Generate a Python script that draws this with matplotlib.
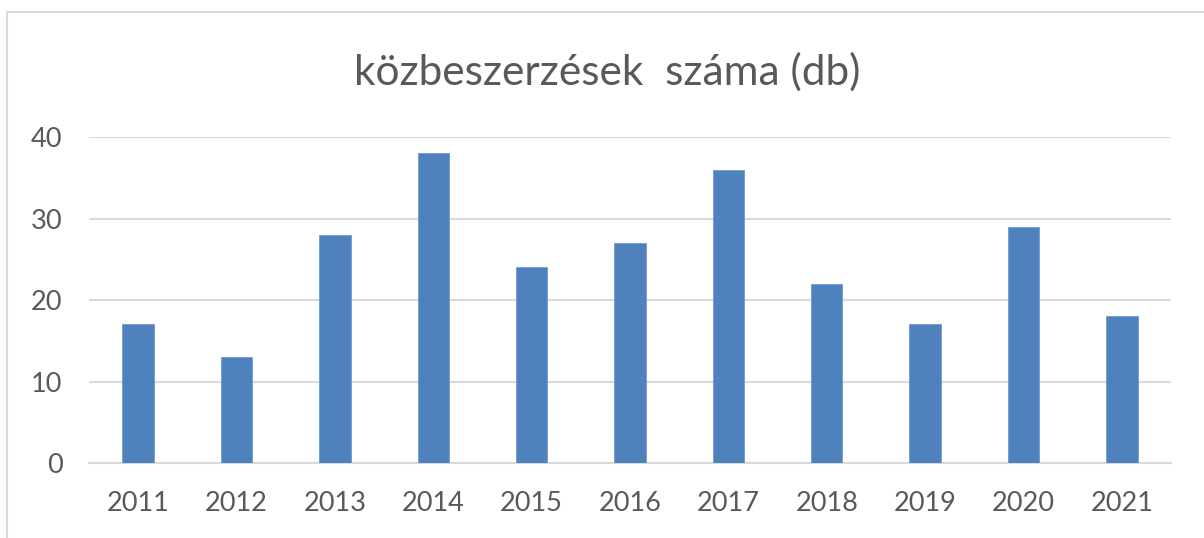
import matplotlib
matplotlib.use("Agg")
import matplotlib.pyplot as plt
from matplotlib.lines import Line2D

# adatok
years = ['2011', '2012', '2013', '2014', '2015', '2016', '2017', '2018', '2019', '2020', '2021']
counts = [17, 13, 28, 38, 24, 27, 36, 22, 17, 29, 18]
y_ticks = [0, 10, 20, 30, 40]

text_col = '#595959'
bar_col = '#4F81BD'
grid_col = '#D9D9D9'

plt.rcParams['font.family'] = ['Lato', 'DejaVu Sans']

W, H = 1204, 538
fig = plt.figure(figsize=(W / 100, H / 100), dpi=100)

# chart frame: top and left edges only are visible
fig.lines.append(Line2D([7 / W, 1.0], [1 - 12 / H, 1 - 12 / H], transform=fig.transFigure,
                        color='#D9D9D9', linewidth=1.5))
fig.lines.append(Line2D([7 / W, 7 / W], [0, 1 - 12 / H], transform=fig.transFigure,
                        color='#D9D9D9', linewidth=1.5))

ax = fig.add_axes([89 / W, (H - 463) / H, (1171 - 89) / W, (463 - 137) / H])
x = range(len(years))
ax.bar(x, counts, width=0.32, color=bar_col, edgecolor='#6F9AD0', linewidth=0.6, zorder=3)

ax.set_ylim(0, 40)
ax.set_xlim(-0.5, len(years) - 0.5)
ax.set_yticks(y_ticks)
ax.set_xticks(list(x))
ax.set_xticklabels(years)
ax.yaxis.grid(True, color=grid_col, linewidth=1.5, zorder=0)
ax.tick_params(axis='both', length=0, labelsize=19.5, colors=text_col)
ax.tick_params(axis='x', pad=20)
ax.tick_params(axis='y', pad=19)
for s in ['top', 'right', 'left']:
    ax.spines[s].set_visible(False)
ax.spines['bottom'].set_color(grid_col)
ax.spines['bottom'].set_linewidth(1.5)

fig.text(607 / W, 1 - 72 / H, 'közbeszerzések  száma (db)', ha='center', va='center',
         fontsize=30.5, color=text_col)

fig.savefig('out.png', dpi=100)
